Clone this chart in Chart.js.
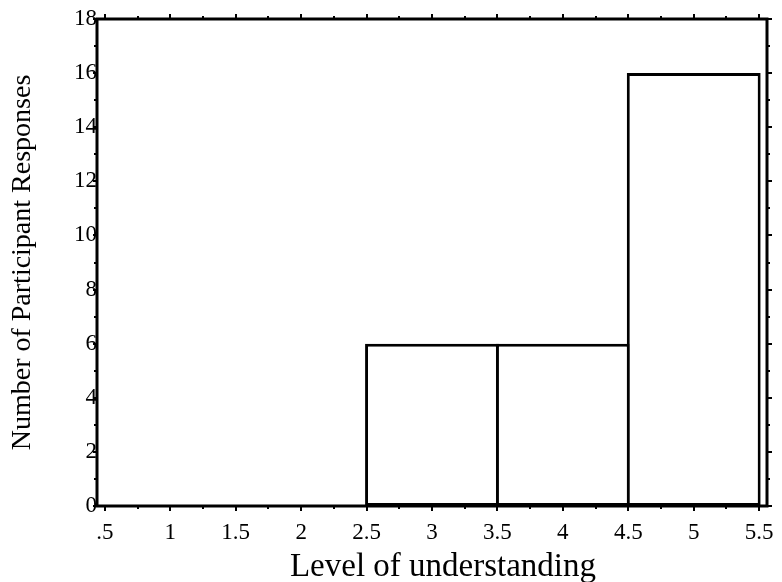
<!DOCTYPE html>
<html><head><meta charset="utf-8">
<script src="https://cdn.jsdelivr.net/npm/chart.js@4/dist/chart.umd.min.js"></script>
<style>html,body{margin:0;padding:0;background:#fff}#wrap{width:782px;height:582px}</style>
</head><body><div id="wrap"><canvas id="c" width="782" height="582"></canvas></div>
<script>
const binCenters = [3, 4, 5];
const counts = [6, 6, 16];
const xTickValues = [0.5, 1, 1.5, 2, 2.5, 3, 3.5, 4, 4.5, 5, 5.5];
const xTickLabels = ['.5', '1', '1.5', '2', '2.5', '3', '3.5', '4', '4.5', '5', '5.5'];
const yTickValues = [0, 2, 4, 6, 8, 10, 12, 14, 16, 18];
const xTitle = 'Level of understanding';
const yTitle = 'Number of Participant Responses';

const FONT = '"Liberation Serif", serif';

const framePlugin = {
  id: 'frame',
  afterDatasetsDraw(chart) {
    const {ctx, chartArea: a, scales} = chart;
    const xs = scales.x, ys = scales.y;
    ctx.save();
    ctx.strokeStyle = '#000';
    ctx.lineWidth = 3;
    ctx.strokeRect(a.left, a.top, a.right - a.left, a.bottom - a.top);
    ctx.lineWidth = 2;
    ctx.beginPath();
    for (let i = 0; i < xTickValues.length; i++) {
      const v = xTickValues[i];
      const x = Math.round(xs.getPixelForValue(v));
      ctx.moveTo(x, a.bottom); ctx.lineTo(x, a.bottom + 5);
      ctx.moveTo(x, a.top); ctx.lineTo(x, a.top - 5);
      if (i < xTickValues.length - 1) {
        const m = Math.round(xs.getPixelForValue((v + xTickValues[i + 1]) / 2));
        ctx.moveTo(m, a.bottom); ctx.lineTo(m, a.bottom + 3);
        ctx.moveTo(m, a.top); ctx.lineTo(m, a.top - 3);
      }
    }
    for (let i = 0; i < yTickValues.length; i++) {
      const v = yTickValues[i];
      const y = Math.round(ys.getPixelForValue(v));
      ctx.moveTo(a.left, y); ctx.lineTo(a.left - 4, y);
      ctx.moveTo(a.right, y); ctx.lineTo(a.right + 5, y);
      if (i < yTickValues.length - 1) {
        const m = Math.round(ys.getPixelForValue((v + yTickValues[i + 1]) / 2));
        ctx.moveTo(a.left, m); ctx.lineTo(a.left - 3, m);
        ctx.moveTo(a.right, m); ctx.lineTo(a.right + 3, m);
      }
    }
    ctx.stroke();
    // x-axis title
    ctx.fillStyle = '#000';
    ctx.font = '33px ' + FONT;
    ctx.textAlign = 'center';
    ctx.textBaseline = 'alphabetic';
    ctx.fillText(xTitle, (a.left + a.right) / 2 + 11, 576);
    ctx.restore();
  }
};

new Chart(document.getElementById('c'), {
  type: 'bar',
  data: {
    datasets: [{
      data: binCenters.map((x, i) => ({x: x, y: counts[i]})),
      backgroundColor: '#fff',
      borderColor: '#000',
      borderWidth: 3,
      borderSkipped: false,
      barPercentage: 2.046,
      categoryPercentage: 1
    }]
  },
  options: {
    responsive: false,
    animation: false,
    devicePixelRatio: 1,
    layout: {padding: {top: 19, right: 15, left: 0, bottom: 0}},
    plugins: {legend: {display: false}, tooltip: {enabled: false}},
    scales: {
      x: {
        type: 'linear',
        offset: false,
        min: 0.44, max: 5.56,
        afterBuildTicks: (axis) => { axis.ticks = xTickValues.map(v => ({value: v})); },
        afterFit: (s) => { s.height = 76; s.paddingLeft = 0; s.paddingRight = 0; },
        grid: {display: false, drawTicks: false, offset: false},
        border: {display: false},
        ticks: {
          padding: 13, maxRotation: 0, autoSkip: false,
          color: '#000', font: {family: FONT, size: 23},
          callback: (v) => { const i = xTickValues.indexOf(v); return i >= 0 ? xTickLabels[i] : ''; }
        },
        title: {display: false}
      },
      y: {
        type: 'linear',
        min: 0, max: 18,
        afterBuildTicks: (axis) => { axis.ticks = yTickValues.map(v => ({value: v})); },
        afterFit: (s) => { s.width = 97; s.paddingTop = 0; s.paddingBottom = 0; },
        grid: {display: false, drawTicks: false},
        border: {display: false},
        ticks: {padding: 0, color: '#000', font: {family: FONT, size: 23}},
        title: {display: true, text: yTitle, color: '#000', font: {family: FONT, size: 28, lineHeight: 1}, padding: {top: 9, bottom: 0}}
      }
    }
  },
  plugins: [framePlugin]
});
</script></body></html>
